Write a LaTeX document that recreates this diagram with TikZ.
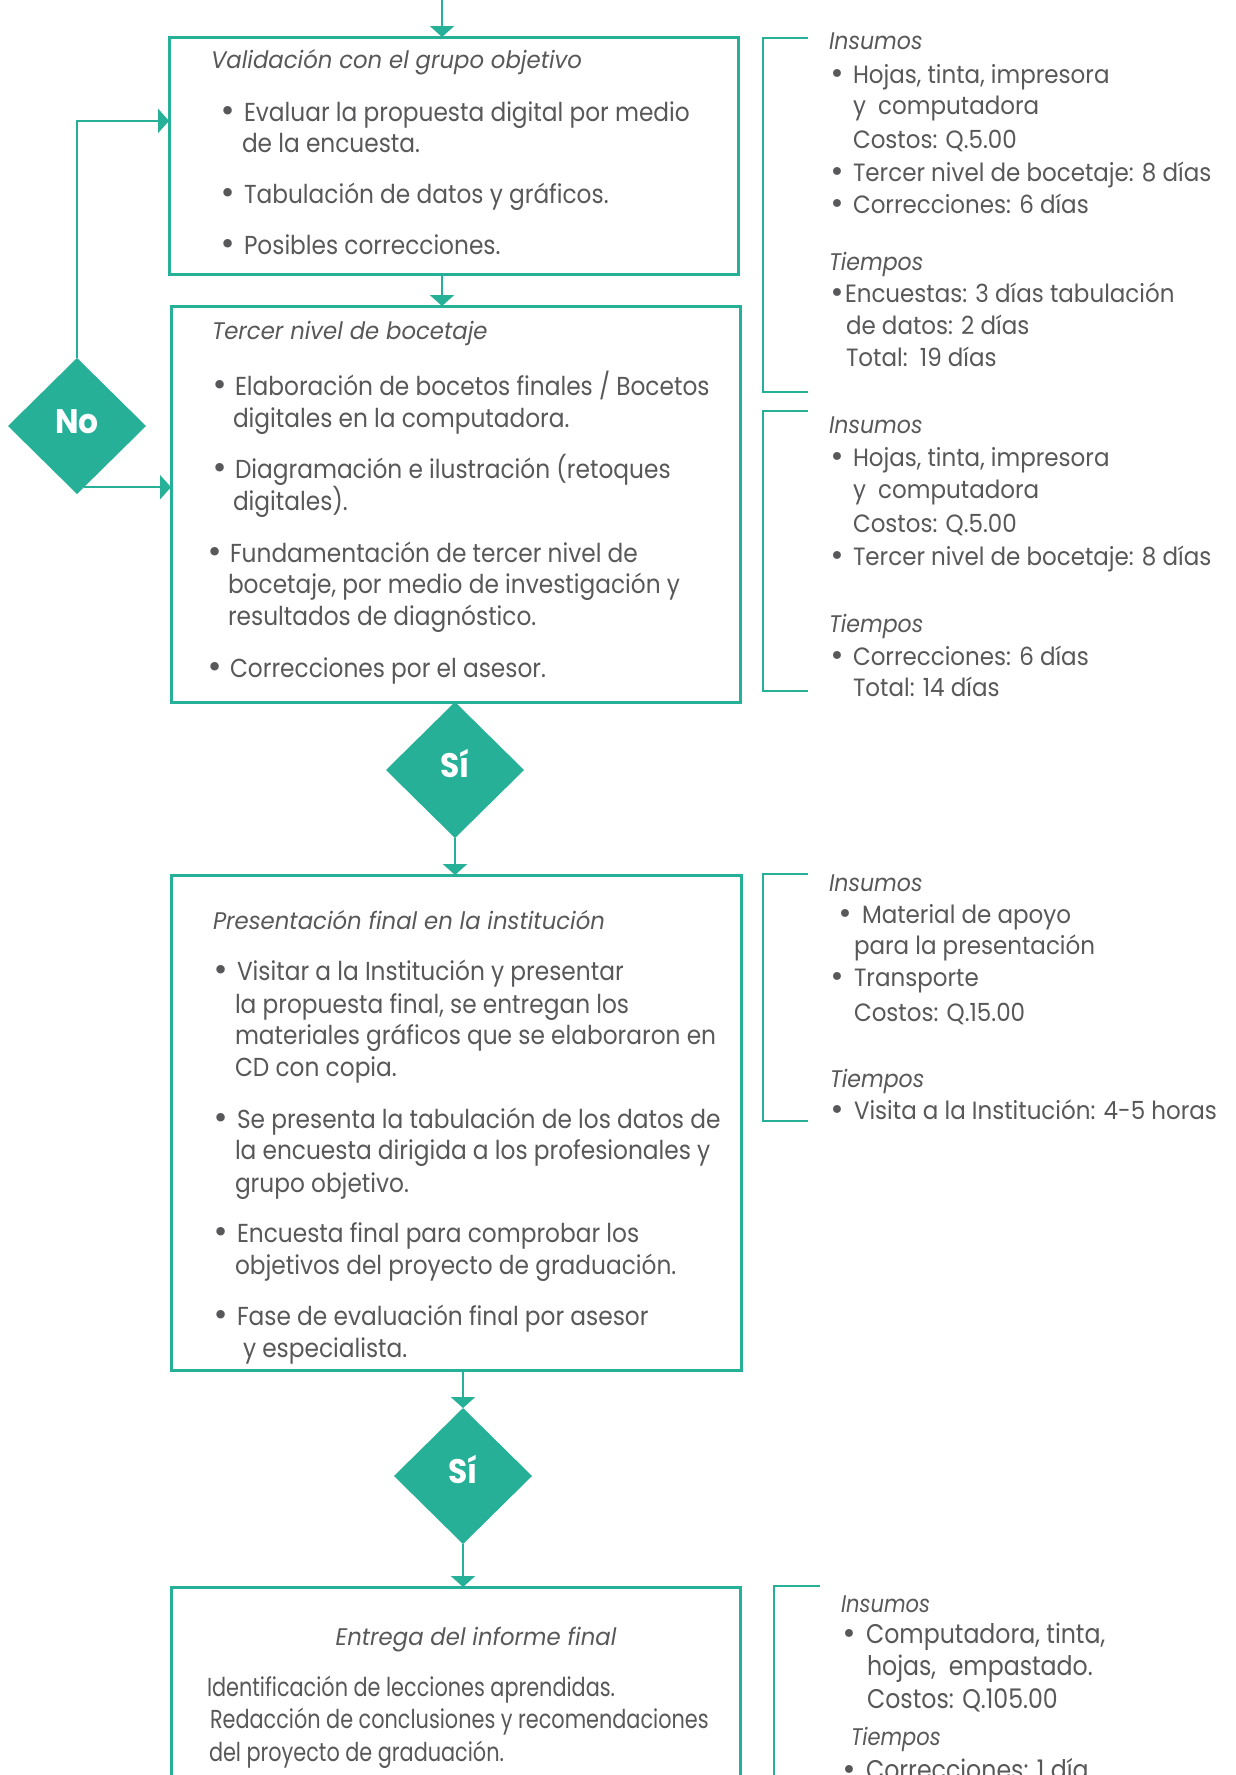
\documentclass[tikz,border=0pt]{standalone}
\usepackage{fontspec}
\setmainfont{Poppins}
\newfontfamily\boxfnt[FakeStretch=0.895]{Poppins}
\newfontfamily\hdfnt[FakeStretch=0.95]{Poppins}
\newfontfamily\sidefnt[FakeStretch=0.92]{Poppins}
\newfontfamily\condfnt[FakeStretch=0.80]{Poppins}
\newfontfamily\sidecfnt[FakeStretch=0.876]{Poppins}
\newfontfamily\diafnt[FakeStretch=0.92]{Poppins}
\newfontfamily\bulfnt{DejaVu Sans}
\usetikzlibrary{arrows.meta,shapes.geometric,calc}
\definecolor{tealc}{RGB}{38,176,151}
\definecolor{tgray}{RGB}{88,88,90}
\newcommand\Tx[5]{\node[#1] (#2) at (#3,#4) {#5};}
\newcommand\Bu[4]{\node[#1] (#2) at (#3,#4) {•};}
\tikzset{
  boxc/.style={rectangle, draw=tealc, line width=3pt, inner sep=0pt, outer sep=0pt},
  dia/.style={diamond, aspect=1, fill=tealc, minimum width=138pt, minimum height=136pt,
    inner sep=0pt, outer sep=0pt, text=white, text height=24pt, text depth=10pt,
    font=\diafnt\bfseries\fontsize{34}{34}\selectfont},
  conn/.style={draw=tealc, line width=2.5pt, -{Triangle[length=11pt,width=24pt]}},
  brk/.style={draw=tealc, line width=2.5pt},
  bt/.style={anchor=base west, inner sep=0pt, outer sep=0pt, text=tgray, font=\boxfnt\fontsize{26}{32}\selectfont},
  bh/.style={bt, font=\hdfnt\itshape\fontsize{24}{30}\selectfont},
  bb/.style={bt, anchor=base, font=\bulfnt\fontsize{29}{30}\selectfont},
  st/.style={bt, font=\sidefnt\fontsize{25}{30}\selectfont},
  sh/.style={bt, font=\sidefnt\itshape\fontsize{24}{30}\selectfont},
  sb/.style={bt, anchor=base, font=\bulfnt\fontsize{27}{30}\selectfont},
  ct/.style={bt, font=\condfnt\fontsize{26}{32}\selectfont},
  ch/.style={bt, anchor=base, font=\hdfnt\itshape\fontsize{24}{30}\selectfont},
  cst/.style={bt, font=\sidecfnt\fontsize{27}{32}\selectfont},
  csh/.style={bt, font=\sidecfnt\itshape\fontsize{24}{30}\selectfont},
  csb/.style={bt, anchor=base, font=\bulfnt\fontsize{27}{30}\selectfont},
}
\begin{document}
\begin{tikzpicture}[x=1pt,y=-1pt]
\useasboundingbox (0,0) rectangle (1236,1775);
\fill[white] (0,0) rectangle (1236,1775);
\clip (0,0) rectangle (1236,1775);

% boxes
\node[boxc, minimum width=569pt, minimum height=237pt] (b1) at (453.5,155.5) {};
\node[boxc, minimum width=569pt, minimum height=396pt] (b2) at (455.5,504) {};
\node[boxc, minimum width=570pt, minimum height=495pt] (b3) at (456,1122.5) {};
\node[boxc, minimum width=569pt, minimum height=189pt] (b4) at (455.5,1681.5) {};

% diamonds
\node[dia] (no) at (77,426) {No};
\node[dia] (si1) at (455,770) {Sí};
\node[dia] (si2) at (463,1476) {Sí};

% connectors
\coordinate (top) at (442,0);
\coordinate (nolow) at ($(no.south)!0.1!(no.east)$);
\draw[conn] (top) -- (top |- b1.north);
\draw[conn] (b1.south -| top) -- (b2.north -| top);
\draw[conn] (si1.south) -- (si1.south |- b3.north);
\draw[conn] (b3.south -| si2.north) -- (si2.north);
\draw[conn] (si2.south) -- (si2.south |- b4.north);
\draw[conn] (no.north) |- ($(b1.north west)!0.354!(b1.south west)$);
\draw[conn] (nolow) -- (nolow -| b2.west);

% brackets
\draw[brk] (808,38) -- (763,38) -- (763,392) -- (808,392);
\draw[brk] (808,411) -- (763,411) -- (763,691) -- (808,691);
\draw[brk] (808,874) -- (763,874) -- (763,1121) -- (808,1121);
\draw[brk] (820,1586) -- (774,1586) -- (774,1776) -- (820,1776);

% box 1
\Tx{bh}{b1h}{211}{68}{Validación con el grupo objetivo}
\Bu{bb}{b1k1}{228}{121}
\Tx{bt}{b1a1}{244}{121}{Evaluar la propuesta digital por medio}
\Tx{bt}{b1a2}{242}{152}{de la encuesta.}
\Bu{bb}{b1k2}{228}{203}
\Tx{bt}{b1b1}{244}{203}{Tabulación de datos y gráficos.}
\Bu{bb}{b1k3}{228}{254}
\Tx{bt}{b1c1}{244}{254}{Posibles correcciones.}

% box 2
\Tx{bh}{b2h}{212}{339}{Tercer nivel de bocetaje}
\Bu{bb}{b2k1}{220}{395}
\Tx{bt}{b2a1}{235}{395}{Elaboración de bocetos finales / Bocetos}
\Tx{bt}{b2a2}{233}{427}{digitales en la computadora.}
\Bu{bb}{b2k2}{220}{478}
\Tx{bt}{b2b1}{235}{478}{Diagramación e ilustración (retoques}
\Tx{bt}{b2b2}{233}{510}{digitales).}
\Bu{bb}{b2k3}{215}{562}
\Tx{bt}{b2c1}{230}{562}{Fundamentación de tercer nivel de}
\Tx{bt}{b2c2}{228}{593}{bocetaje, por medio de investigación y}
\Tx{bt}{b2c3}{228}{625}{resultados de diagnóstico.}
\Bu{bb}{b2k4}{215}{677}
\Tx{bt}{b2d1}{230}{677}{Correcciones por el asesor.}

% box 3
\Tx{bh}{b3h}{213}{929}{Presentación final en la institución}
\Bu{bb}{b3k1}{221}{980}
\Tx{bt}{b3a1}{237}{980}{Visitar a la Institución y presentar}
\Tx{bt}{b3a2}{235}{1013}{la propuesta final, se entregan los}
\Tx{bt}{b3a3}{235}{1044}{materiales gráficos que se elaboraron en}
\Tx{bt}{b3a4}{235}{1076}{CD con copia.}
\Bu{bb}{b3k2}{221}{1128}
\Tx{bt}{b3b1}{237}{1128}{Se presenta la tabulación de los datos de}
\Tx{bt}{b3b2}{235}{1159}{la encuesta dirigida a los profesionales y}
\Tx{bt}{b3b3}{235}{1192}{grupo objetivo.}
\Bu{bb}{b3k3}{221}{1242}
\Tx{bt}{b3c1}{237}{1242}{Encuesta final para comprobar los}
\Tx{bt}{b3c2}{235}{1274}{objetivos del proyecto de graduación.}
\Bu{bb}{b3k4}{221}{1325}
\Tx{bt}{b3d1}{237}{1325}{Fase de evaluación final por asesor}
\Tx{bt}{b3d2}{243}{1357}{y especialista.}

% box 4
\Tx{ch}{b4h}{476}{1645}{Entrega del informe final}
\Tx{ct}{b4a}{207}{1696}{Identificación de lecciones aprendidas.}
\Tx{ct}{b4b}{210}{1728}{Redacción de conclusiones y recomendaciones}
\Tx{ct}{b4c}{209}{1761}{del proyecto de graduación.}

% side 1
\Tx{sh}{s1h}{829}{49}{Insumos}
\Bu{sb}{s1k1}{837}{83}
\Tx{st}{s1a1}{853}{83}{Hojas, tinta, impresora}
\Tx{st}{s1a2}{853}{114}{y\ \ computadora}
\Tx{st}{s1a3}{853}{148}{Costos: Q.5.00}
\Bu{sb}{s1k2}{837}{181}
\Tx{st}{s1b}{853}{181}{Tercer nivel de bocetaje: 8 días}
\Bu{sb}{s1k3}{837}{213}
\Tx{st}{s1c}{853}{213}{Correcciones: 6 días}
\Tx{sh}{s1t}{829}{270}{Tiempos}
\Bu{sb}{s1k4}{837}{302}
\Tx{st}{s1d1}{845}{302}{Encuestas: 3 días tabulación}
\Tx{st}{s1d2}{846}{334}{de datos: 2 días}
\Tx{st}{s1d3}{846}{366}{Total:\ \ 19 días}

% side 2
\Tx{sh}{s2h}{829}{433}{Insumos}
\Bu{sb}{s2k1}{837}{466}
\Tx{st}{s2a1}{853}{466}{Hojas, tinta, impresora}
\Tx{st}{s2a2}{853}{498}{y\ \ computadora}
\Tx{st}{s2a3}{853}{532}{Costos: Q.5.00}
\Bu{sb}{s2k2}{837}{565}
\Tx{st}{s2b}{853}{565}{Tercer nivel de bocetaje: 8 días}
\Tx{sh}{s2t}{829}{632}{Tiempos}
\Bu{sb}{s2k3}{837}{665}
\Tx{st}{s2c1}{853}{665}{Correcciones: 6 días}
\Tx{st}{s2c2}{853}{696}{Total: 14 días}

% side 3
\Tx{sh}{s3h}{829}{891}{Insumos}
\Bu{sb}{s3k1}{845}{923}
\Tx{st}{s3a1}{862}{923}{Material de apoyo}
\Tx{st}{s3a2}{854}{954}{para la presentación}
\Bu{sb}{s3k2}{837}{986}
\Tx{st}{s3b1}{854}{986}{Transporte}
\Tx{st}{s3b2}{854}{1021}{Costos: Q.15.00}
\Tx{sh}{s3t}{830}{1087}{Tiempos}
\Bu{sb}{s3k3}{837}{1119}
\Tx{st}{s3c}{854}{1119}{Visita a la Institución: 4-5 horas}

% side 4
\Tx{csh}{s4h}{841}{1612}{Insumos}
\Bu{csb}{s4k1}{849}{1643}
\Tx{cst}{s4a1}{866}{1643}{Computadora, tinta,}
\Tx{cst}{s4a2}{867}{1675}{hojas,\ \ empastado.}
\Tx{cst}{s4a3}{867}{1708}{Costos: Q.105.00}
\Tx{csh}{s4t}{851}{1745}{Tiempos}
\Bu{csb}{s4k2}{849}{1779}
\Tx{cst}{s4b}{866}{1779}{Correcciones: 1 día}
\end{tikzpicture}
\end{document}
